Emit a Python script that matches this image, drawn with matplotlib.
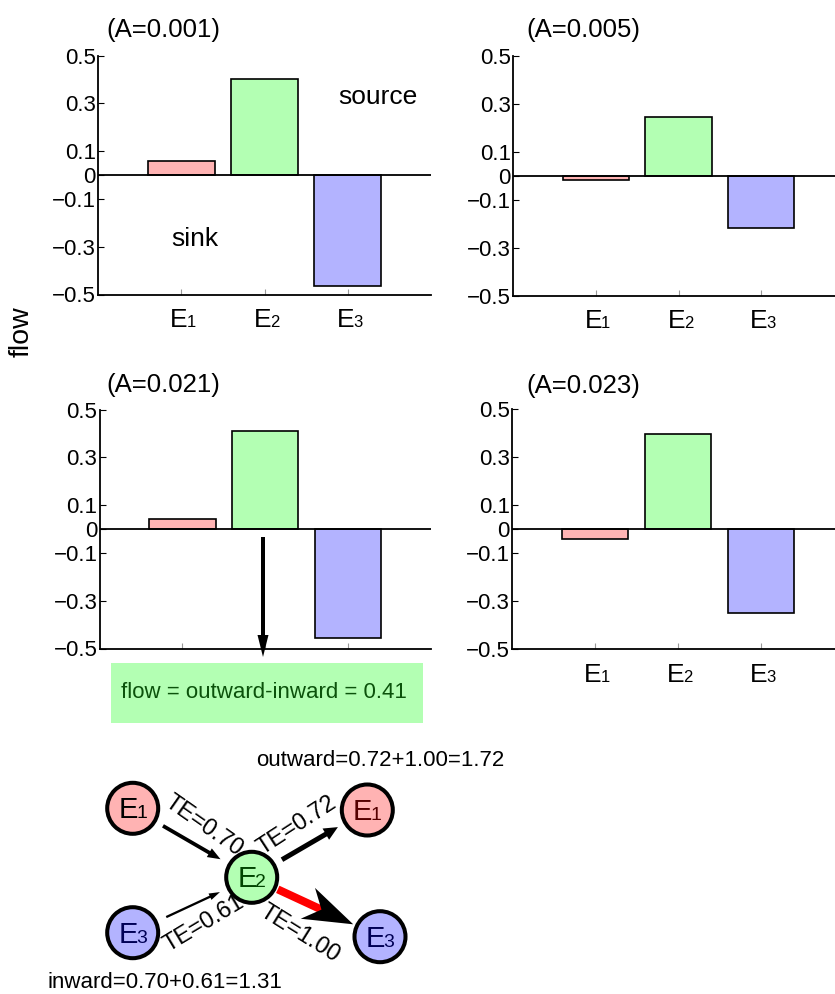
import matplotlib
matplotlib.use('Agg')
import matplotlib.pyplot as plt
from matplotlib.patches import Circle, FancyArrow, Rectangle
from matplotlib.transforms import offset_copy
import numpy as np

plt.rcParams['font.family'] = ['Liberation Sans', 'DejaVu Sans']
plt.rcParams['axes.unicode_minus'] = True

W, H = 835, 994

# ---------------- data ----------------
categories = [('E', '1'), ('E', '2'), ('E', '3')]
panel_titles = ['(A=0.001)', '(A=0.005)', '(A=0.021)', '(A=0.023)']
flow_a0001 = [0.06, 0.40, -0.465]
flow_a0005 = [-0.02, 0.245, -0.22]
flow_a0021 = [0.04, 0.41, -0.455]
flow_a0023 = [-0.04, 0.395, -0.35]
ytick_vals = [-0.5, -0.3, -0.1, 0, 0.1, 0.3, 0.5]
ytick_labels = ['\u22120.5', '\u22120.3', '\u22120.1', '0', '0.1', '0.3', '0.5']
bar_colors = ['#ffb3b3', '#b3ffb3', '#b3b3ff']

te_inward = [0.70, 0.61]   # E1->E2, E3->E2
te_outward = [0.72, 1.00]  # E2->E1, E2->E3

# ---------------- layout helpers ----------------
fig = plt.figure(figsize=(W / 100, H / 100), dpi=100)


def px_rect(l, t, r, b):
    return [l / W, 1 - b / H, (r - l) / W, (b - t) / H]


def sub_label(ax, x, y, main, sub, base_tr, dx_main, dx_sub, dy, size, subsize, color='k', z=6):
    """Draw main letter + subscript digit sharing a baseline (offsets in pixels)."""
    t1 = offset_copy(base_tr, fig=fig, x=dx_main, y=dy, units='dots')
    t2 = offset_copy(base_tr, fig=fig, x=dx_sub, y=dy, units='dots')
    ax.text(x, y, main, transform=t1, ha='right', va='baseline', fontsize=size, color=color,
            zorder=z, clip_on=False)
    ax.text(x, y, sub, transform=t2, ha='left', va='baseline', fontsize=subsize, color=color,
            zorder=z, clip_on=False)


panels = [
    (flow_a0001, (98, 55.5, 431, 294.5), True, (106, 36.7)),
    (flow_a0005, (513, 55.5, 844, 295.5), True, (526.7, 36.7)),
    (flow_a0021, (99.5, 409.5, 431, 648.5), False, (106, 391.7)),
    (flow_a0023, (512, 409, 844, 649), True, (526, 392.7)),
]

xpos = np.arange(1, len(categories) + 1)
axes = []
for (vals, rect, show_x, tpos), title in zip(panels, panel_titles):
    ax = fig.add_axes(px_rect(*rect))
    ax.bar(xpos, vals, width=0.8, color=bar_colors, edgecolor='k', linewidth=1.2, zorder=2)
    ax.axhline(0, color='k', lw=1.3, zorder=3)
    ax.set_xlim(0, 4)
    ax.set_ylim(-0.5, 0.5)
    for s in ['top', 'right']:
        ax.spines[s].set_visible(False)
    for s in ['left', 'bottom']:
        ax.spines[s].set_linewidth(1.3)
        ax.spines[s].set_color('k')
    ax.set_yticks(ytick_vals)
    ax.set_yticklabels(ytick_labels)
    ax.set_xticks(xpos)
    ax.set_xticklabels([])
    if show_x:
        for xp, (m, s) in zip(xpos, categories):
            sub_label(ax, xp, 0, m, s, ax.get_xaxis_transform(), 6.5, 5.5, -32.5, 19, 12)
    ax.tick_params(axis='y', direction='in', length=4, width=0.8, color='k', pad=1.5, labelsize=16)
    ax.tick_params(axis='x', direction='in', length=4, width=0.8, color='#999999')
    ax.patch.set_visible(False)
    fig.text(tpos[0] / W, 1 - tpos[1] / H, title, ha='left', va='baseline', fontsize=18.5)
    axes.append(ax)

# annotations in first panel
fig.text(378 / W, 1 - 97 / H, 'source', ha='center', va='center', fontsize=19)
fig.text(195 / W, 1 - 239.5 / H, 'sink', ha='center', va='center', fontsize=19)

# y label
fig.text(22 / W, 1 - 332 / H, 'flow', rotation=90, ha='center', va='center', fontsize=20.5)

# ---------------- overlay for diagram ----------------
ov = fig.add_axes([0, 0, 1, 1], zorder=10)
ov.set_xlim(0, W)
ov.set_ylim(H, 0)
ov.axis('off')

# flow arrow and box
ov.add_patch(FancyArrow(263, 537, 0, 120, width=4, head_width=11, head_length=22,
                        length_includes_head=True, color='k', lw=0))
ov.add_patch(Rectangle((111, 662.7), 312, 60, facecolor='#b3ffb3', edgecolor='none'))
flow_value = (te_outward[0] + te_outward[1]) - (te_inward[0] + te_inward[1])
ov.text(264, 693, 'flow = outward-inward = %.2f' % flow_value, ha='center', va='center',
        fontsize=16, color='#0b520b')

# nodes
node_pos = {
    'E1_in': (132.7, 808.3),
    'E3_in': (132.7, 932.7),
    'E2': (251.7, 877.3),
    'E1_out': (367.3, 810.0),
    'E3_out': (380.0, 936.7),
}
node_style = {
    'E1_in': (('E', '1'), '#ffb3b3', '#000000'),
    'E3_in': (('E', '3'), '#b3b3ff', '#000055'),
    'E2': (('E', '2'), '#b3ffb3', '#004400'),
    'E1_out': (('E', '1'), '#ffb3b3', '#550000'),
    'E3_out': (('E', '3'), '#b3b3ff', '#000055'),
}
for k, (x, y) in node_pos.items():
    (m, s), fc, tc = node_style[k]
    ov.add_patch(Circle((x, y), 25.5, facecolor=fc, edgecolor='k', lw=2.9, zorder=5))
    sub_label(ov, x, y, m, s, ov.transData, 5, 3.5, -10, 21, 14, color=tc)


def edge(a, b, shrink_a, shrink_b, width, hw, hl, color='k'):
    (x0, y0), (x1, y1) = node_pos[a], node_pos[b]
    d = np.array([x1 - x0, y1 - y0])
    L = np.hypot(*d)
    u = d / L
    s = np.array([x0, y0]) + u * shrink_a
    e = np.array([x1, y1]) - u * shrink_b
    v = e - s
    ov.add_patch(FancyArrow(s[0], s[1], v[0], v[1], width=width, head_width=hw, head_length=hl,
                            length_includes_head=True, color=color, lw=0, zorder=4))


edge('E1_in', 'E2', 35, 36, 3.8, 10, 13)
edge('E3_in', 'E2', 37, 35, 2.3, 7, 11)
edge('E2', 'E1_out', 35, 34, 5.0, 13, 14)

# big red edge E2 -> E3_out
(x0, y0), (x1, y1) = node_pos['E2'], node_pos['E3_out']
u = np.array([x1 - x0, y1 - y0]) / np.hypot(x1 - x0, y1 - y0)
s = np.array([x0, y0]) + u * 28.7
tip = np.array([x1, y1]) - u * 29.5
shaft_end = tip - u * 34
ov.plot([s[0], shaft_end[0]], [s[1], shaft_end[1]], color='red', lw=8 * 0.72,
        solid_capstyle='butt', zorder=4)
hl = 50
hs = tip - u * hl
ov.add_patch(FancyArrow(hs[0], hs[1], u[0] * hl, u[1] * hl, width=0.01, head_width=34, head_length=hl,
                        overhang=0.3, length_includes_head=True, color='k', lw=0, zorder=4))

# TE labels
te_labels = [
    (te_inward[0], (203.3, 826.0), -35),
    (te_outward[0], (297.3, 825.0), 33),
    (te_inward[1], (204.0, 924.0), 31),
    (te_outward[1], (300.0, 933.3), -32),
]
for v, (x, y), rot in te_labels:
    ov.text(x, y, 'TE=%.2f' % v, rotation=rot, rotation_mode='anchor', ha='center', va='center',
            fontsize=17, zorder=6)

ov.text(380, 760, 'outward=%.2f+%.2f=%.2f' % (te_outward[0], te_outward[1], sum(te_outward)),
        ha='center', va='center', fontsize=16)
ov.text(165.3, 983, 'inward=%.2f+%.2f=%.2f' % (te_inward[0], te_inward[1], sum(te_inward)),
        ha='center', va='center', fontsize=16)

fig.savefig('out.png', dpi=100)
